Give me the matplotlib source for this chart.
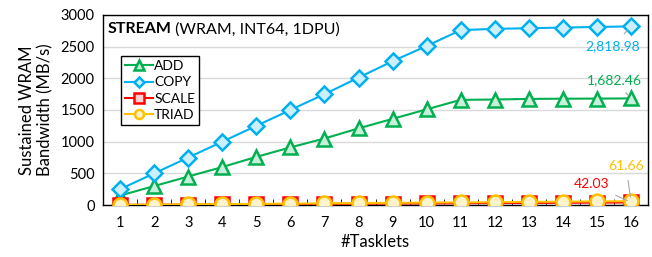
import matplotlib.pyplot as plt
import matplotlib.ticker as mticker

plt.rcParams['font.family'] = ['Lato', 'DejaVu Sans']

tasklets = list(range(1, 17))
add = [150, 300, 450, 600, 760, 910, 1050, 1210, 1360, 1510, 1660, 1665, 1675, 1678, 1680, 1682.46]
copy = [250, 500, 750, 1000, 1250, 1500, 1750, 2010, 2270, 2510, 2760, 2780, 2790, 2800, 2810, 2818.98]
scale = [3, 5, 8, 10, 13, 16, 18, 21, 24, 26, 29, 32, 34, 37, 39, 42.03]
triad = [4, 8, 12, 15, 19, 23, 27, 31, 35, 39, 42, 46, 50, 54, 58, 61.66]

series = [
    ("ADD", add, '#00b050', '#c8efd9', '^', 10.5),
    ("COPY", copy, '#00b0f0', '#cdeffc', 'D', 8.5),
    ("SCALE", scale, '#ff0000', '#ffd0d0', 's', 10),
    ("TRIAD", triad, '#ffc000', '#fff3cc', 'o', 10),
]

fig = plt.figure(figsize=(6.52, 2.57), dpi=100)
ax = fig.add_axes([0.158, 0.202, 0.836, 0.740])

for name, vals, col, face, mk, ms in series:
    ax.plot(tasklets, vals, color=col, lw=1.5, marker=mk, markersize=ms,
            markerfacecolor=face, markeredgecolor=col, markeredgewidth=1.8,
            label=name, zorder=3)

ax.set_xlim(0.5, 16.5)
ax.set_ylim(0, 3000)
ax.set_xticks(tasklets)
ax.xaxis.set_minor_locator(mticker.FixedLocator([x + 0.5 for x in range(0, 17)]))
ax.tick_params(axis='x', which='major', length=0, labelsize=10.5, pad=8)
ax.tick_params(axis='x', which='minor', length=4, direction='in', color='black')
ax.tick_params(axis='y', length=0, labelsize=10.5, pad=6)
ax.set_yticks(range(0, 3001, 500))
ax.grid(True, axis='y', color='#d9d9d9', lw=1)
ax.set_axisbelow(True)
for s in ax.spines.values():
    s.set_color('black')
    s.set_linewidth(1)

ax.set_xlabel("#Tasklets", fontsize=12, labelpad=3)
ax.set_ylabel("Sustained WRAM\nBandwidth (MB/s)", fontsize=12, labelpad=5)

t = ax.text(0.008, 0.925, "STREAM", transform=ax.transAxes, fontsize=11.5,
            fontweight='bold', va='center')
ax.annotate(" (WRAM, INT64, 1DPU)", xy=(1, 0.5), xycoords=t, fontsize=11.5,
            va='center', ha='left')

leg = ax.legend(loc='upper left', bbox_to_anchor=(0.02, 0.82), fontsize=10,
                frameon=True, fancybox=False, edgecolor='black', framealpha=1,
                handlelength=2.0, handletextpad=0.1, borderpad=0.3, labelspacing=0.3,
                markerscale=0.65)
leg.get_frame().set_linewidth(1)

ann = [
    (copy, "2,818.98", '#00b0f0', (15.45, 2500)),
    (add, "1,682.46", '#00b050', (15.5, 1975)),
    (scale, "42.03", '#ff0000', (14.85, 330)),
    (triad, "61.66", '#ffc000', (15.85, 615)),
]
for vals, txt, col, pos in ann:
    ax.annotate(txt, xy=(16, vals[-1]), xytext=pos, fontsize=10, color=col,
                ha='center', va='center',
                arrowprops=dict(arrowstyle='-', color='#a6a6a6', lw=0.8,
                                shrinkA=4, shrinkB=3))

fig.savefig("out.png", dpi=100)
